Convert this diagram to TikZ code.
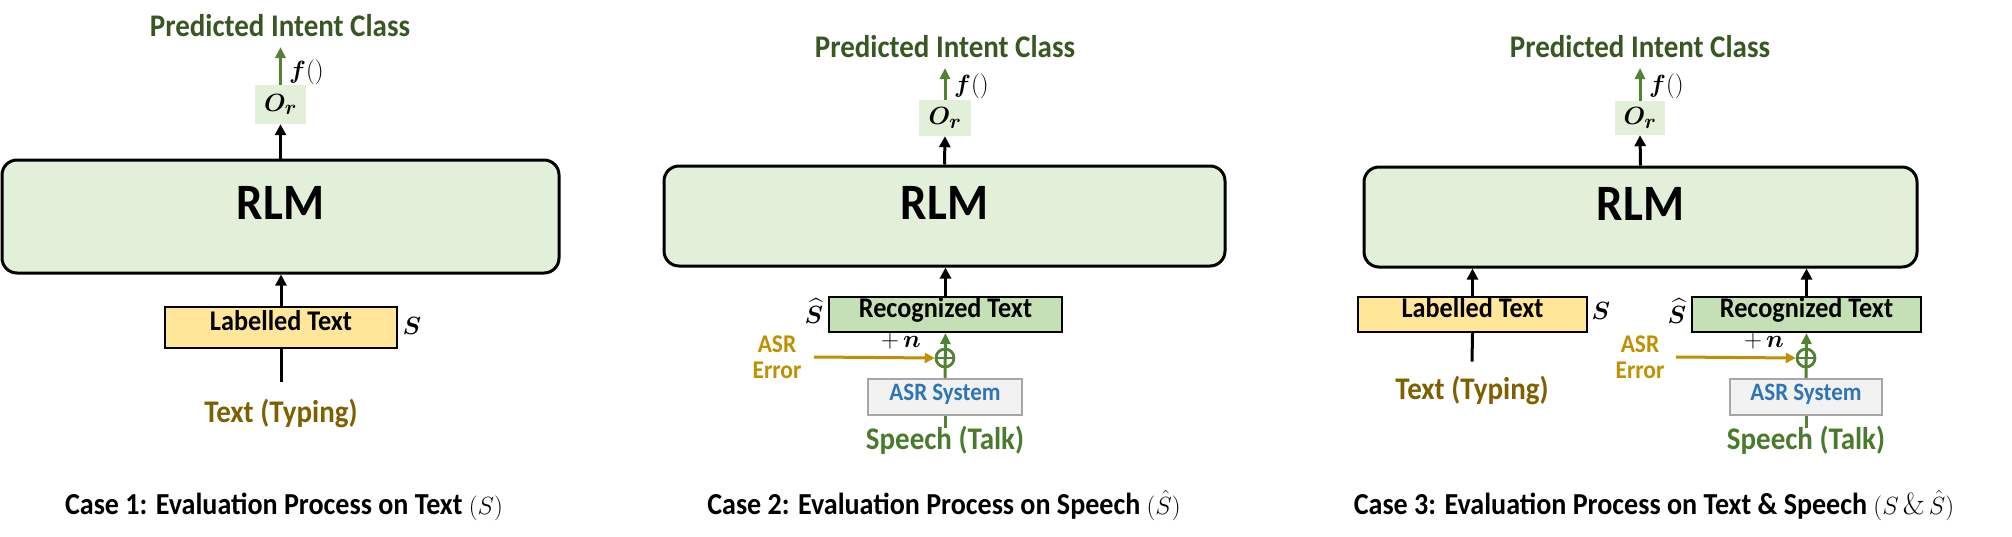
\documentclass[tikz,border=0pt]{standalone}
\usepackage{fontspec}
\setsansfont{Carlito}[FakeStretch=0.92]
\usepackage{amsmath,bm}
\usetikzlibrary{arrows.meta}
\definecolor{dkgreen}{HTML}{385723}
\definecolor{mgreen}{HTML}{548235}
\definecolor{spgreen}{HTML}{4A7A2C}
\definecolor{lgreen}{HTML}{E2F0D9}
\definecolor{rgreen}{HTML}{C5E0B4}
\definecolor{lyellow}{HTML}{FFE699}
\definecolor{tybrown}{HTML}{7F6000}
\definecolor{errgold}{HTML}{BF9000}
\definecolor{asrblue}{HTML}{2E75B6}
\definecolor{asrfill}{HTML}{F2F2F2}
\definecolor{asrdraw}{HTML}{A6A6A6}
\newcommand{\fsz}[1]{\fontsize{#1}{#1}\selectfont}
\tikzset{
  sbold/.style={font=\sffamily\bfseries, inner sep=0pt, outer sep=0pt},
  titletxt/.style={sbold, font=\sffamily\bfseries\fsz{31.5}, text=dkgreen},
  obox/.style={fill=lgreen, inner sep=0pt, font=\fsz{30}},
  rlmbox/.style={draw=black, line width=3pt, fill=lgreen, rounded corners=15pt, inner sep=0pt,
     font=\sffamily\bfseries\fsz{51}, text height=0.64em, text depth=0pt},
  lbox/.style={draw=black, line width=2pt, fill=lyellow, inner sep=0pt,
     font=\sffamily\bfseries\fsz{28.5}, text height=0.64em, text depth=0pt},
  recbox/.style={draw=black, line width=2pt, fill=rgreen, inner sep=0pt,
     font=\sffamily\bfseries\fsz{28.5}, text height=0.64em, text depth=0pt},
  asrbox/.style={draw=asrdraw, line width=2pt, fill=asrfill, inner sep=0pt, text=asrblue,
     font=\sffamily\bfseries\fsz{25}, text height=0.64em, text depth=0pt},
  typing/.style={sbold, font=\sffamily\bfseries\fsz{31.5}, text=tybrown},
  speech/.style={sbold, font=\sffamily\bfseries\fsz{31.5}, text=spgreen},
  errtxt/.style={sbold, font=\sffamily\bfseries\fsz{25.5}, text=errgold, align=center},
  capt/.style={sbold, font=\sffamily\bfseries\fsz{30.5}, text=black},
  mathlbl/.style={inner sep=0pt, font=\fsz{26}},
  flbl/.style={inner sep=0pt, font=\fsz{28}},
  blk/.style={draw=black, line width=3pt, -{Triangle[length=11pt,width=11pt]}},
  blkline/.style={draw=black, line width=3pt},
  grn/.style={draw=mgreen, line width=3pt, -{Triangle[length=11pt,width=10pt]}},
  grnline/.style={draw=mgreen, line width=3pt},
  gld/.style={draw=errgold, line width=3pt, -{Triangle[length=10pt,width=10pt]}},
  pluscirc/.style={circle, draw=mgreen, line width=2.5pt, minimum size=18pt, inner sep=0pt},
}
\begin{document}
\begin{tikzpicture}[x=1pt,y=-1pt]
\useasboundingbox (0,0) rectangle (2012,536);
% ---------------- Case 1 ----------------
\node[titletxt, anchor=base] (t1) at (280,36) {Predicted Intent Class};
\node[obox, minimum width=51pt, minimum height=39pt] (o1) at (280.5,104.5) {$\bm{O_r}$};
\node[flbl, anchor=west] (f1) at (289,72) {$\bm{f}()$};
\node[rlmbox, minimum width=557pt, minimum height=113pt] (r1) at (280.5,216.5) {RLM};
\node[lbox, minimum width=232pt, minimum height=41pt] (l1) at (281,327.5) {Labelled Text};
\node[mathlbl] (s1) at (412,326) {$\bm{S}$};
\node[typing, anchor=base] (ty1) at (281,422) {Text (Typing)};
\node[capt, anchor=base] (cap1) at (284,514) {Case 1: Evaluation Process on Text $(S)$};
\draw[grn, shorten >=11pt] (o1.north) -- (o1.north |- t1.base);
\draw[blk] (r1.north) -- (o1.south);
\draw[blk] (l1.north) -- (l1.north |- r1.south);
\draw[blkline] (l1.south) -- ([yshift=17pt]ty1.north);
% ---------------- Case 2 ----------------
\node[titletxt, anchor=base] (t2) at (945,57) {Predicted Intent Class};
\node[obox, minimum width=52pt, minimum height=36pt] (o2) at (945,118) {$\bm{O_r}$};
\node[flbl, anchor=west] (f2) at (954,86) {$\bm{f}()$};
\node[rlmbox, minimum width=561pt, minimum height=100pt] (r2) at (944.5,216) {RLM};
\node[recbox, minimum width=233pt, minimum height=35pt] (rc2) at (945.5,314.5) {Recognized Text};
\node[mathlbl] (sh2) at (814,311) {$\bm{\widehat{S}}$};
\node[asrbox, minimum width=154pt, minimum height=36pt] (a2) at (945,397) {ASR System};
\node[pluscirc] (c2) at (945,358) {};
\node[mathlbl] (n2) at (901,341) {$+\,\bm{n}$};
\node[errtxt] (e2) at (777,357) {ASR\\[1pt]Error};
\coordinate (g2) at (814,357);
\node[speech, anchor=base] (sp2) at (945,449) {Speech (Talk)};
\node[capt, anchor=base] (cap2) at (944,514) {Case 2: Evaluation Process on Speech $(\hat{S})$};
\draw[grn, shorten >=11pt] (o2.north) -- (o2.north |- t2.base);
\draw[blk] (r2.north) -- (o2.south);
\draw[blk] (rc2.north) -- (rc2.north |- r2.south);
\draw[grn] (a2.north) -- (rc2.south);
\draw[grnline] (a2.south) -- ([yshift=-2pt]sp2.north);
\draw[gld] (g2) -- (c2.west);
\node[pluscirc] at (c2) {};
\draw[draw=mgreen, line width=2.5pt] (c2.west) -- (c2.east);
% ---------------- Case 3 ----------------
\node[titletxt, anchor=base] (t3) at (1640,57) {Predicted Intent Class};
\node[obox, minimum width=50pt, minimum height=34pt] (o3) at (1640,118) {$\bm{O_r}$};
\node[flbl, anchor=west] (f3) at (1649,86) {$\bm{f}()$};
\node[rlmbox, minimum width=553pt, minimum height=100pt] (r3) at (1640.5,217) {RLM};
\node[lbox, minimum width=229pt, minimum height=35pt] (l3) at (1472.5,314.5) {Labelled Text};
\node[mathlbl] (s3) at (1601,311) {$\bm{S}$};
\node[mathlbl] (sh3) at (1677,311) {$\bm{\widehat{S}}$};
\node[recbox, minimum width=229pt, minimum height=35pt] (rc3) at (1806.5,314.5) {Recognized Text};
\node[typing, anchor=base] (ty3) at (1472,399) {Text (Typing)};
\node[asrbox, minimum width=152pt, minimum height=36pt] (a3) at (1806,397) {ASR System};
\node[pluscirc] (c3) at (1806,358) {};
\node[mathlbl] (n3) at (1764,341) {$+\,\bm{n}$};
\node[errtxt] (e3) at (1640,357) {ASR\\[1pt]Error};
\coordinate (g3) at (1676,357);
\node[speech, anchor=base] (sp3) at (1806,449) {Speech (Talk)};
\node[capt, anchor=base] (cap3) at (1654,514) {Case 3: Evaluation Process on Text \& Speech $(S\,\&\,\hat{S})$};
\draw[grn, shorten >=11pt] (o3.north) -- (o3.north |- t3.base);
\draw[blk] (r3.north) -- (o3.south);
\draw[blk] (l3.north) -- (l3.north |- r3.south);
\draw[blk] (rc3.north) -- (rc3.north |- r3.south);
\draw[blkline] (l3.south) -- ([yshift=14pt]ty3.north);
\draw[grn] (a3.north) -- (rc3.south);
\draw[grnline] (a3.south) -- ([yshift=-2pt]sp3.north);
\draw[gld] (g3) -- (c3.west);
\node[pluscirc] at (c3) {};
\draw[draw=mgreen, line width=2.5pt] (c3.west) -- (c3.east);
\end{tikzpicture}
\end{document}
